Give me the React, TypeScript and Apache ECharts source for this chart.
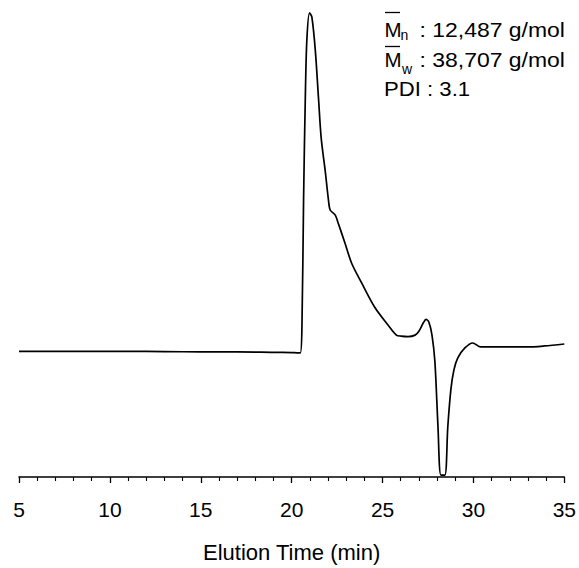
import React, { useEffect, useRef } from "react";
import * as echarts from "echarts";

// Elution time (min)
const times: number[] = [
  5, 7, 9, 11, 13, 15, 17, 19, 20, 20.3, 20.476, 20.564, 20.657, 20.75, 20.837, 20.985,
  21.11, 21.297, 21.478, 21.625, 21.844, 22.025, 22.118, 22.392, 22.573, 22.94, 23.3,
  23.85, 24.58, 25.31, 25.76, 26.02, 26.4, 26.79, 27.0, 27.23, 27.39, 27.55, 27.72,
  27.88, 28.05, 28.21, 28.43, 28.59, 28.76, 28.93, 29.14, 29.53, 29.96, 30.4, 31.17,
  32.04, 32.97, 33.9, 35.0,
];
// Detector signal (arbitrary units)
const signal: number[] = [
  127.5, 127.5, 127.5, 127.5, 127.3, 127, 127, 126.5, 126.3, 126, 126, 151, 284, 384, 444, 471,
  467, 434, 384, 344, 311, 281, 271, 266, 257, 237, 217,
  197, 172, 154, 144, 143, 142.5, 144, 148, 156, 160, 157, 144,
  117, 51, 2, 2, 51, 89, 109, 121, 131, 136, 132, 132,
  132, 132, 133, 135,
];
const xTicks = { min: 5, max: 35, interval: 5 };
const axisTitle = "Elution Time (min)";
const mnText = ": 12,487 g/mol";
const mwText = ": 38,707 g/mol";
const pdiText = "PDI : 3.1";

export default function App() {
  const ref = useRef<HTMLDivElement>(null);
  useEffect(() => {
    if (!ref.current) return;
    const chart = echarts.init(ref.current, null, { renderer: "svg" });
    const font = "'Liberation Sans', Arial, sans-serif";
    const big = 20.5;
    const small = 14;
    const txt = (x: number, y: number, text: string, size: number, sx = 1) => ({
      type: "text",
      x,
      y,
      scaleX: sx,
      style: {
        text,
        fill: "#000",
        fontSize: size,
        fontFamily: font,
        verticalAlign: "middle",
        align: "left",
      },
    });
    const bar = (x1: number, x2: number, y: number) => ({
      type: "line",
      shape: { x1, y1: y, x2, y2: y },
      style: { stroke: "#000", lineWidth: 1.3 },
    });
    chart.setOption({
      animation: false,
      backgroundColor: "#fff",
      grid: { left: 19, right: 12, top: 10, bottom: 84, containLabel: false },
      xAxis: {
        type: "value",
        min: xTicks.min,
        max: xTicks.max,
        interval: xTicks.interval,
        name: axisTitle,
        nameLocation: "middle",
        nameGap: 64,
        nameTextStyle: { fontSize: 22, color: "#000", fontFamily: font },
        axisLine: { show: true, onZero: false, lineStyle: { color: "#000", width: 1.5 } },
        axisTick: { show: true, inside: false, length: 6, lineStyle: { color: "#000", width: 1.3 } },
        minorTick: { show: true, splitNumber: 5, length: 4, lineStyle: { color: "#000", width: 1.1 } },
        axisLabel: { fontSize: 21, color: "#000", fontFamily: font, margin: 22 },
        splitLine: { show: false },
      },
      yAxis: {
        type: "value",
        min: 0,
        max: 474,
        show: false,
        splitLine: { show: false },
      },
      series: [
        {
          type: "line",
          data: times.map((t, i) => [t, signal[i]]),
          showSymbol: false,
          smooth: 0.3,
          lineStyle: { color: "#000", width: 1.7 },
          clip: false,
        },
      ],
      graphic: [
        bar(385, 400, 12.5),
        txt(384.5, 29, "M", big),
        txt(400.5, 35, "n", small),
        txt(419.5, 29.5, mnText, big, 1.12),
        bar(385, 400, 46.5),
        txt(384.5, 59.5, "M", big),
        txt(402, 69, "w", small),
        txt(419.5, 59.5, mwText, big, 1.12),
        txt(384, 89, pdiText, big, 1.08),
      ],
    });
    return () => chart.dispose();
  }, []);
  return <div ref={ref} style={{ width: 579, height: 568, position: "absolute", left: 0, top: 0 }} />;
}
